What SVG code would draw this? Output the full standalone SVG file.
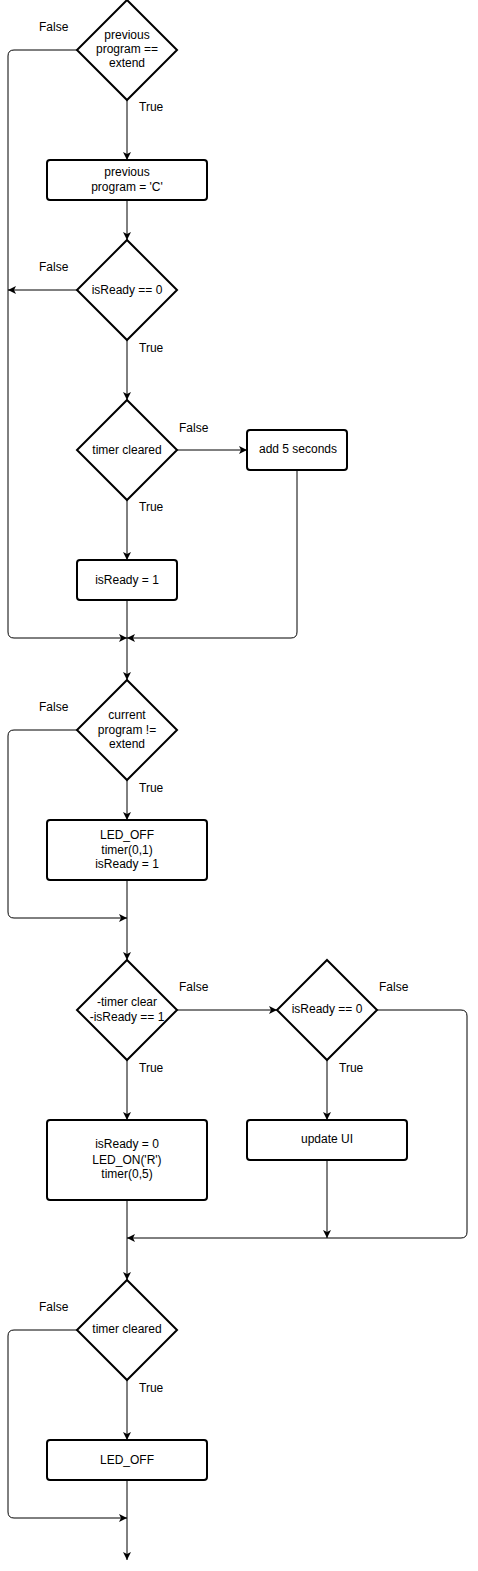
<svg xmlns="http://www.w3.org/2000/svg" width="478" height="1571" viewBox="0 0 478 1571">
<style>
.n{fill:#fff;stroke:#000;stroke-width:2}
.e{fill:none;stroke:#000;stroke-width:1}
text{font-family:"Liberation Sans",Arial,sans-serif;font-size:12px;fill:#000}
.c{text-anchor:middle}
</style>
<defs>
<marker id="a" markerUnits="userSpaceOnUse" markerWidth="10" markerHeight="10" refX="8" refY="4" orient="auto">
<path d="M0,0 L8,4 L0,8 L2,4 Z" fill="#000"/>
</marker>
</defs>
<rect width="478" height="1571" fill="#fff"/>
<g id="connectors">
<path class="e" d="M127,100 V160" marker-end="url(#a)"/>
<path class="e" d="M77,50 H14 Q8,50 8,56 V632 Q8,638 14,638 H127" marker-end="url(#a)"/>
<path class="e" d="M127,200 V240" marker-end="url(#a)"/>
<path class="e" d="M77,290 H8" marker-end="url(#a)"/>
<path class="e" d="M127,340 V400" marker-end="url(#a)"/>
<path class="e" d="M177,450 H247" marker-end="url(#a)"/>
<path class="e" d="M127,500 V560" marker-end="url(#a)"/>
<path class="e" d="M297,470 V632 Q297,638 291,638 H127" marker-end="url(#a)"/>
<path class="e" d="M127,600 V680" marker-end="url(#a)"/>
<path class="e" d="M77,730 H14 Q8,730 8,736 V912 Q8,918 14,918 H127" marker-end="url(#a)"/>
<path class="e" d="M127,780 V820" marker-end="url(#a)"/>
<path class="e" d="M127,880 V960" marker-end="url(#a)"/>
<path class="e" d="M177,1010 H277" marker-end="url(#a)"/>
<path class="e" d="M127,1060 V1120" marker-end="url(#a)"/>
<path class="e" d="M327,1060 V1120" marker-end="url(#a)"/>
<path class="e" d="M377,1010 H461 Q467,1010 467,1016 V1232 Q467,1238 461,1238 H127" marker-end="url(#a)"/>
<path class="e" d="M327,1160 V1238" marker-end="url(#a)"/>
<path class="e" d="M127,1200 V1280" marker-end="url(#a)"/>
<path class="e" d="M77,1330 H14 Q8,1330 8,1336 V1512 Q8,1518 14,1518 H127" marker-end="url(#a)"/>
<path class="e" d="M127,1380 V1440" marker-end="url(#a)"/>
<path class="e" d="M127,1480 V1560" marker-end="url(#a)"/>
</g>
<g id="labels">
<text x="39" y="31">False</text>
<text x="139" y="111">True</text>
<text x="39" y="271">False</text>
<text x="139" y="352">True</text>
<text x="179" y="432">False</text>
<text x="139" y="511">True</text>
<text x="39" y="711">False</text>
<text x="139" y="792">True</text>
<text x="179" y="991">False</text>
<text x="379" y="991">False</text>
<text x="139" y="1072">True</text>
<text x="339" y="1072">True</text>
<text x="39" y="1311">False</text>
<text x="139" y="1392">True</text>
</g>
<g id="d1"><path class="n" d="M127,0 L177,50 L127,100 L77,50 Z"/>
<text class="c" x="127" y="39">previous</text><text class="c" x="127" y="53">program ==</text><text class="c" x="127" y="67">extend</text></g>
<g id="r1"><rect class="n" x="47" y="160" width="160" height="40" rx="3"/>
<text class="c" x="127" y="176">previous</text><text class="c" x="127" y="191">program = 'C'</text></g>
<g id="d2"><path class="n" d="M127,240 L177,290 L127,340 L77,290 Z"/>
<text class="c" x="127" y="294">isReady == 0</text></g>
<g id="d3"><path class="n" d="M127,400 L177,450 L127,500 L77,450 Z"/>
<text class="c" x="127" y="454">timer cleared</text></g>
<g id="r2"><rect class="n" x="247" y="430" width="100" height="40" rx="3"/>
<text class="c" x="298" y="453">add 5 seconds</text></g>
<g id="r3"><rect class="n" x="77" y="560" width="100" height="40" rx="3"/>
<text class="c" x="127" y="584">isReady = 1</text></g>
<g id="d4"><path class="n" d="M127,680 L177,730 L127,780 L77,730 Z"/>
<text class="c" x="127" y="719">current</text><text class="c" x="127" y="734">program !=</text><text class="c" x="127" y="748">extend</text></g>
<g id="r4"><rect class="n" x="47" y="820" width="160" height="60" rx="3"/>
<text class="c" x="127" y="839">LED_OFF</text><text class="c" x="127" y="854">timer(0,1)</text><text class="c" x="127" y="868">isReady = 1</text></g>
<g id="d5"><path class="n" d="M127,960 L177,1010 L127,1060 L77,1010 Z"/>
<text class="c" x="127" y="1006">-timer clear</text><text class="c" x="127" y="1021">-isReady == 1</text></g>
<g id="d6"><path class="n" d="M327,960 L377,1010 L327,1060 L277,1010 Z"/>
<text class="c" x="327" y="1013">isReady == 0</text></g>
<g id="r5"><rect class="n" x="47" y="1120" width="160" height="80" rx="3"/>
<text class="c" x="127" y="1148">isReady = 0</text><text class="c" x="127" y="1164">LED_ON('R')</text><text class="c" x="127" y="1178">timer(0,5)</text></g>
<g id="r6"><rect class="n" x="247" y="1120" width="160" height="40" rx="3"/>
<text class="c" x="327" y="1143">update UI</text></g>
<g id="d7"><path class="n" d="M127,1280 L177,1330 L127,1380 L77,1330 Z"/>
<text class="c" x="127" y="1333">timer cleared</text></g>
<g id="r7"><rect class="n" x="47" y="1440" width="160" height="40" rx="3"/>
<text class="c" x="127" y="1464">LED_OFF</text></g>
</svg>
